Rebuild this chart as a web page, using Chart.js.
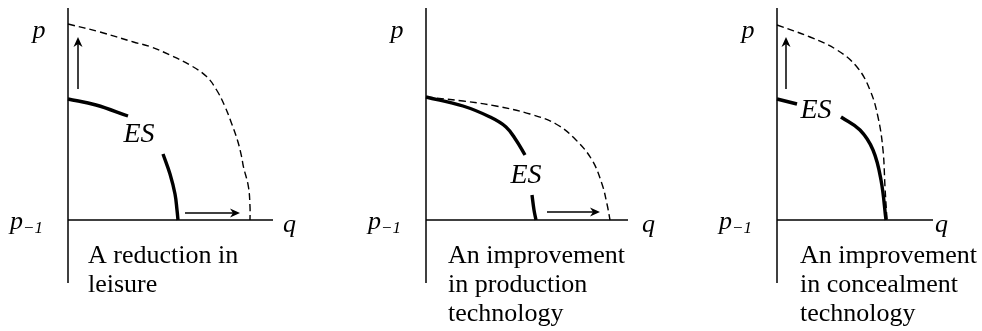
<!DOCTYPE html>
<html>
<head>
<meta charset="utf-8">
<script src="https://cdn.jsdelivr.net/npm/chart.js@4"></script>
<style>
  body { margin: 0; background: #fff; }
  #wrap { position: relative; width: 982px; height: 331px; }
  #wrap canvas { position: absolute; top: 0; }
</style>
</head>
<body>
<div id="wrap">
  <canvas id="c1" width="330" height="331" style="left:0"></canvas>
  <canvas id="c2" width="330" height="331" style="left:330px"></canvas>
  <canvas id="c3" width="322" height="331" style="left:660px"></canvas>
</div>
<script>
// 세로축: p_-1 = 0, 가로축: q = 0 (값은 그림에서 읽은 대략치)
const yMin = -31.5, yMax = 106;

// 1) A reduction in leisure
const leisureDashX = [0, 16, 32.7, 41, 51, 61, 69.3, 74.3, 78.5, 81.8, 84.7, 86.8, 87.7, 90.2, 91, 91];
const leisureDashY = [98, 94, 89, 86.7, 82.5, 77.5, 71.7, 65, 56.7, 48.3, 40, 31.7, 26.7, 16.7, 6.7, 0];
const leisureEsTopX = [0, 14, 30];
const leisureEsTopY = [60.5, 57.5, 52];
const leisureEsLowX = [47.5, 51, 53.5, 54.5, 55];
const leisureEsLowY = [33, 23, 13, 5, 0];
const leisureArrows = [[5, 65.5, 5, 91.5], [58.5, 3.5, 86, 3.5]];
const leisureCaption = ['A reduction in', 'leisure'];

// 2) An improvement in production technology
const prodDashX = [0, 18.5, 35, 52, 65, 75, 83, 88, 90.5, 92];
const prodDashY = [61.5, 59.5, 57, 53, 48, 40, 30, 18, 8, 0];
const prodEsTopX = [0, 18.5, 32, 40, 45, 49.5];
const prodEsTopY = [61.5, 57, 51.5, 46.5, 40, 32.5];
const prodEsLowX = [53, 54, 55];
const prodEsLowY = [12.5, 5, 0];
const prodArrows = [[60.5, 4, 87, 4]];
const prodCaption = ['An improvement', 'in production', 'technology'];

// 3) An improvement in concealment technology
const concDashX = [0, 16.5, 30, 40, 46.5, 50.5, 53, 54, 55];
const concDashY = [97.5, 91.5, 85, 76.5, 65, 51.5, 35, 16.5, 0];
const concEsTopX = [0, 10];
const concEsTopY = [60.5, 58];
const concEsLowX = [32, 41.5, 48, 52, 54.5];
const concEsLowY = [51.5, 45, 35, 20, 0];
const concArrows = [[4.5, 65.5, 4.5, 91.5]];
const concCaption = ['An improvement', 'in concealment', 'technology'];

const serif = "'Liberation Serif', 'Times New Roman', serif";

function pts(xs, ys) {
  return xs.map((x, i) => ({ x: x, y: ys[i] }));
}

// 화살표, 축 라벨, ES, 설명문
const labelPlugin = {
  id: 'labels',
  afterDatasetsDraw(chart, args, opts) {
    const { ctx, scales: { x, y } } = chart;
    const ox = x.getPixelForValue(0), oy = y.getPixelForValue(0);
    ctx.save();
    ctx.fillStyle = '#000';
    ctx.strokeStyle = '#000';
    ctx.lineWidth = 1.5;

    opts.arrows.forEach(([x1, y1, x2, y2]) => {
      const ax = x.getPixelForValue(x1), ay = y.getPixelForValue(y1);
      const bx = x.getPixelForValue(x2), by = y.getPixelForValue(y2);
      const ang = Math.atan2(by - ay, bx - ax);
      const c = Math.cos(ang), s = Math.sin(ang);
      ctx.beginPath();
      ctx.moveTo(ax, ay);
      ctx.lineTo(bx - 5 * c, by - 5 * s);
      ctx.stroke();
      // 채워진 화살촉 (뒤쪽이 오목)
      ctx.beginPath();
      ctx.moveTo(bx, by);
      ctx.lineTo(bx - 10 * c + 4.5 * s, by - 10 * s - 4.5 * c);
      ctx.lineTo(bx - 7 * c, by - 7 * s);
      ctx.lineTo(bx - 10 * c - 4.5 * s, by - 10 * s + 4.5 * c);
      ctx.closePath();
      ctx.fill();
    });

    ctx.textBaseline = 'alphabetic';
    ctx.font = 'italic 26px ' + serif;
    ctx.textAlign = 'center';
    ctx.fillText('p', ox - 29, y.getPixelForValue(91));

    ctx.font = 'italic 28px ' + serif;
    ctx.fillText('ES', x.getPixelForValue(opts.es[0]), y.getPixelForValue(opts.es[1]));

    ctx.textAlign = 'left';
    ctx.font = 'italic 26px ' + serif;
    ctx.fillText('q', x.getPixelForValue(opts.qX), oy + 12);
    ctx.fillText('p', ox - 58, oy + 9);
    const pw = ctx.measureText('p').width;
    ctx.font = 'italic 17px ' + serif;
    ctx.fillText('\u22121', ox - 58 + pw, oy + 13);

    ctx.font = '26px ' + serif;
    opts.caption.forEach((line, i) => {
      ctx.fillText(line, x.getPixelForValue(opts.capX), oy + 43 + i * 29);
    });
    ctx.restore();
  }
};

function drawPanel(id, xMax, padding, dash, esTop, esLow, extra) {
  const axis = { borderColor: '#000', borderWidth: 1.5, pointRadius: 0, showLine: true, fill: false };
  new Chart(document.getElementById(id), {
    type: 'scatter',
    data: {
      datasets: [
        Object.assign({ data: [{ x: 0, y: yMin }, { x: 0, y: yMax }] }, axis),
        Object.assign({ data: [{ x: 0, y: 0 }, { x: xMax, y: 0 }] }, axis),
        {
          data: dash, borderColor: '#000', borderWidth: 1.4, borderDash: [7, 4],
          pointRadius: 0, showLine: true, tension: 0.4
        },
        { data: esTop, borderColor: '#000', borderWidth: 3.4, pointRadius: 0, showLine: true, tension: 0.4 },
        { data: esLow, borderColor: '#000', borderWidth: 3.4, pointRadius: 0, showLine: true, tension: 0.4 }
      ]
    },
    options: {
      responsive: false,
      animation: false,
      events: [],
      clip: false,
      layout: { padding: padding },
      scales: {
        x: { type: 'linear', display: false, min: 0, max: xMax },
        y: { type: 'linear', display: false, min: yMin, max: yMax }
      },
      plugins: {
        legend: { display: false },
        tooltip: { enabled: false },
        labels: extra
      }
    },
    plugins: [labelPlugin]
  });
}

drawPanel('c1', 102.5, { left: 68, right: 57, top: 8, bottom: 48 },
  pts(leisureDashX, leisureDashY), pts(leisureEsTopX, leisureEsTopY), pts(leisureEsLowX, leisureEsLowY),
  { arrows: leisureArrows, es: [35.5, 39], qX: 107.5, capX: 10, caption: leisureCaption });

drawPanel('c2', 101, { left: 96, right: 32, top: 8, bottom: 48 },
  pts(prodDashX, prodDashY), pts(prodEsTopX, prodEsTopY), pts(prodEsLowX, prodEsLowY),
  { arrows: prodArrows, es: [50, 18.5], qX: 108, capX: 11, caption: prodCaption });

drawPanel('c3', 78, { left: 117, right: 49, top: 8, bottom: 48 },
  pts(concDashX, concDashY), pts(concEsTopX, concEsTopY), pts(concEsLowX, concEsLowY),
  { arrows: concArrows, es: [19.5, 51], qX: 79, capX: 11.5, caption: concCaption });
</script>
</body>
</html>
